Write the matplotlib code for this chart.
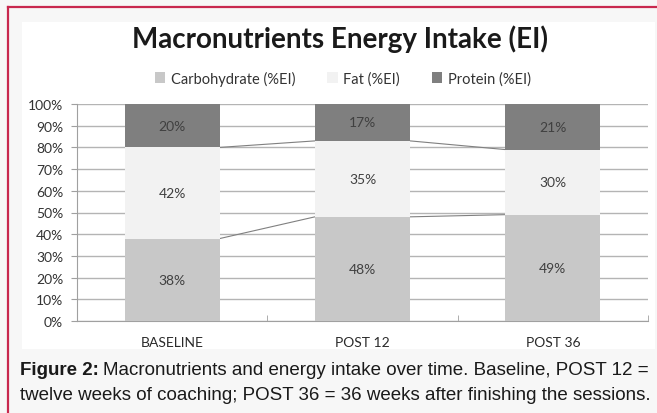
import numpy as np
import matplotlib.pyplot as plt
from matplotlib.patches import Rectangle, Patch

categories = ["BASELINE", "POST 12", "POST 36"]
carbohydrate = [38, 48, 49]
fat = [42, 35, 30]
protein = [20, 17, 21]
series_names = ["Carbohydrate (%EI)", "Fat (%EI)", "Protein (%EI)"]
colors = ["#c8c8c8", "#f2f2f2", "#7f7f7f"]

W, H = 657, 414
fig = plt.figure(figsize=(W / 100, H / 100), dpi=100)
fig.patch.set_facecolor("#f7f7f7")

# white chart panel and crimson frame
fig.add_artist(Rectangle((22 / W, 1 - 350 / H), 633 / W, 327 / H,
                         transform=fig.transFigure, facecolor="white",
                         edgecolor="none", zorder=-5))
fig.add_artist(plt.Line2D([8 / W, 8 / W], [0, 1 - 8 / H], color="#c8284e", lw=1.6))
fig.add_artist(plt.Line2D([8 / W, 1], [1 - 8 / H, 1 - 8 / H], color="#c8284e", lw=1.6))

ax = fig.add_axes([77 / W, 1 - 322 / H, 571 / W, 217 / H])
ax.set_facecolor("white")

x = np.arange(len(categories))
w = 0.5
bottoms = np.zeros(len(categories))
cum_tops = []
for vals, name, c in zip([carbohydrate, fat, protein], series_names, colors):
    vals = np.array(vals, dtype=float)
    ax.bar(x, vals, w, bottom=bottoms, color=c, label=name, zorder=3)
    for xi, b, v in zip(x, bottoms, vals):
        ax.text(xi, b + v / 2, f"{int(v)}%", ha="center", va="center",
                fontsize=10, color="#404040", family="Lato", zorder=4)
    bottoms = bottoms + vals
    cum_tops.append(bottoms.copy())

# series lines between bars
for tops in cum_tops[:2]:
    for i in range(len(categories) - 1):
        ax.plot([x[i] + w / 2, x[i + 1] - w / 2], [tops[i], tops[i + 1]],
                color="#808080", lw=0.8, zorder=2)

ax.set_xlim(-0.5, len(categories) - 0.5)
ax.set_ylim(0, 100)
ax.set_yticks(np.arange(0, 101, 10))
ax.set_yticklabels([f"{v}%" for v in range(0, 101, 10)], family="Lato",
                   fontsize=10, color="#333333")
ax.set_xticks(x)
ax.set_xticklabels(categories, family="Lato", fontsize=10, color="#2a2a2a")
ax.set_xticks(np.arange(-0.5, len(categories)), minor=True)
ax.tick_params(axis="x", which="major", length=0, pad=11)
ax.tick_params(axis="x", which="minor", length=4, color="#a0a0a0", direction="in")
ax.tick_params(axis="y", length=4, color="#a0a0a0", pad=6)
ax.grid(axis="y", color="#b4b4b4", lw=1, zorder=1)
for s in ["top", "right"]:
    ax.spines[s].set_visible(False)
ax.spines["left"].set_color("#a0a0a0")
ax.spines["bottom"].set_color("#a0a0a0")

fig.text(340 / W, 1 - 39 / H, "Macronutrients Energy Intake (EI)", ha="center",
         va="center", fontsize=20, fontweight="bold", family="Lato", color="#1a1a1a")

handles = [Patch(facecolor=c, edgecolor="none") for c in colors]
fig.legend(handles, series_names, loc="center", bbox_to_anchor=(343 / W, 1 - 79 / H),
           ncol=3, frameon=False, prop={"family": "Lato", "size": 10.5},
           handlelength=0.7, handleheight=0.7, handletextpad=0.4, columnspacing=2.2,
           labelcolor="#333333")

cap_size = 13.5
t1 = fig.text(20 / W, 1 - 371 / H, "Figure 2:", ha="left", va="center", fontsize=cap_size,
              fontweight="bold", family="Liberation Sans", color="#1a1a1a")
r = fig.canvas.get_renderer()
x_end = t1.get_window_extent(r).x1 / W
fig.text(x_end + 4 / W, 1 - 371 / H,
         "Macronutrients and energy intake over time. Baseline, POST 12 =",
         ha="left", va="center", fontsize=cap_size, family="Liberation Sans", color="#1a1a1a")
fig.text(20 / W, 1 - 396 / H,
         "twelve weeks of coaching; POST 36 = 36 weeks after finishing the sessions.",
         ha="left", va="center", fontsize=cap_size, family="Liberation Sans", color="#1a1a1a")

fig.savefig("out.png", dpi=100, facecolor=fig.get_facecolor())
